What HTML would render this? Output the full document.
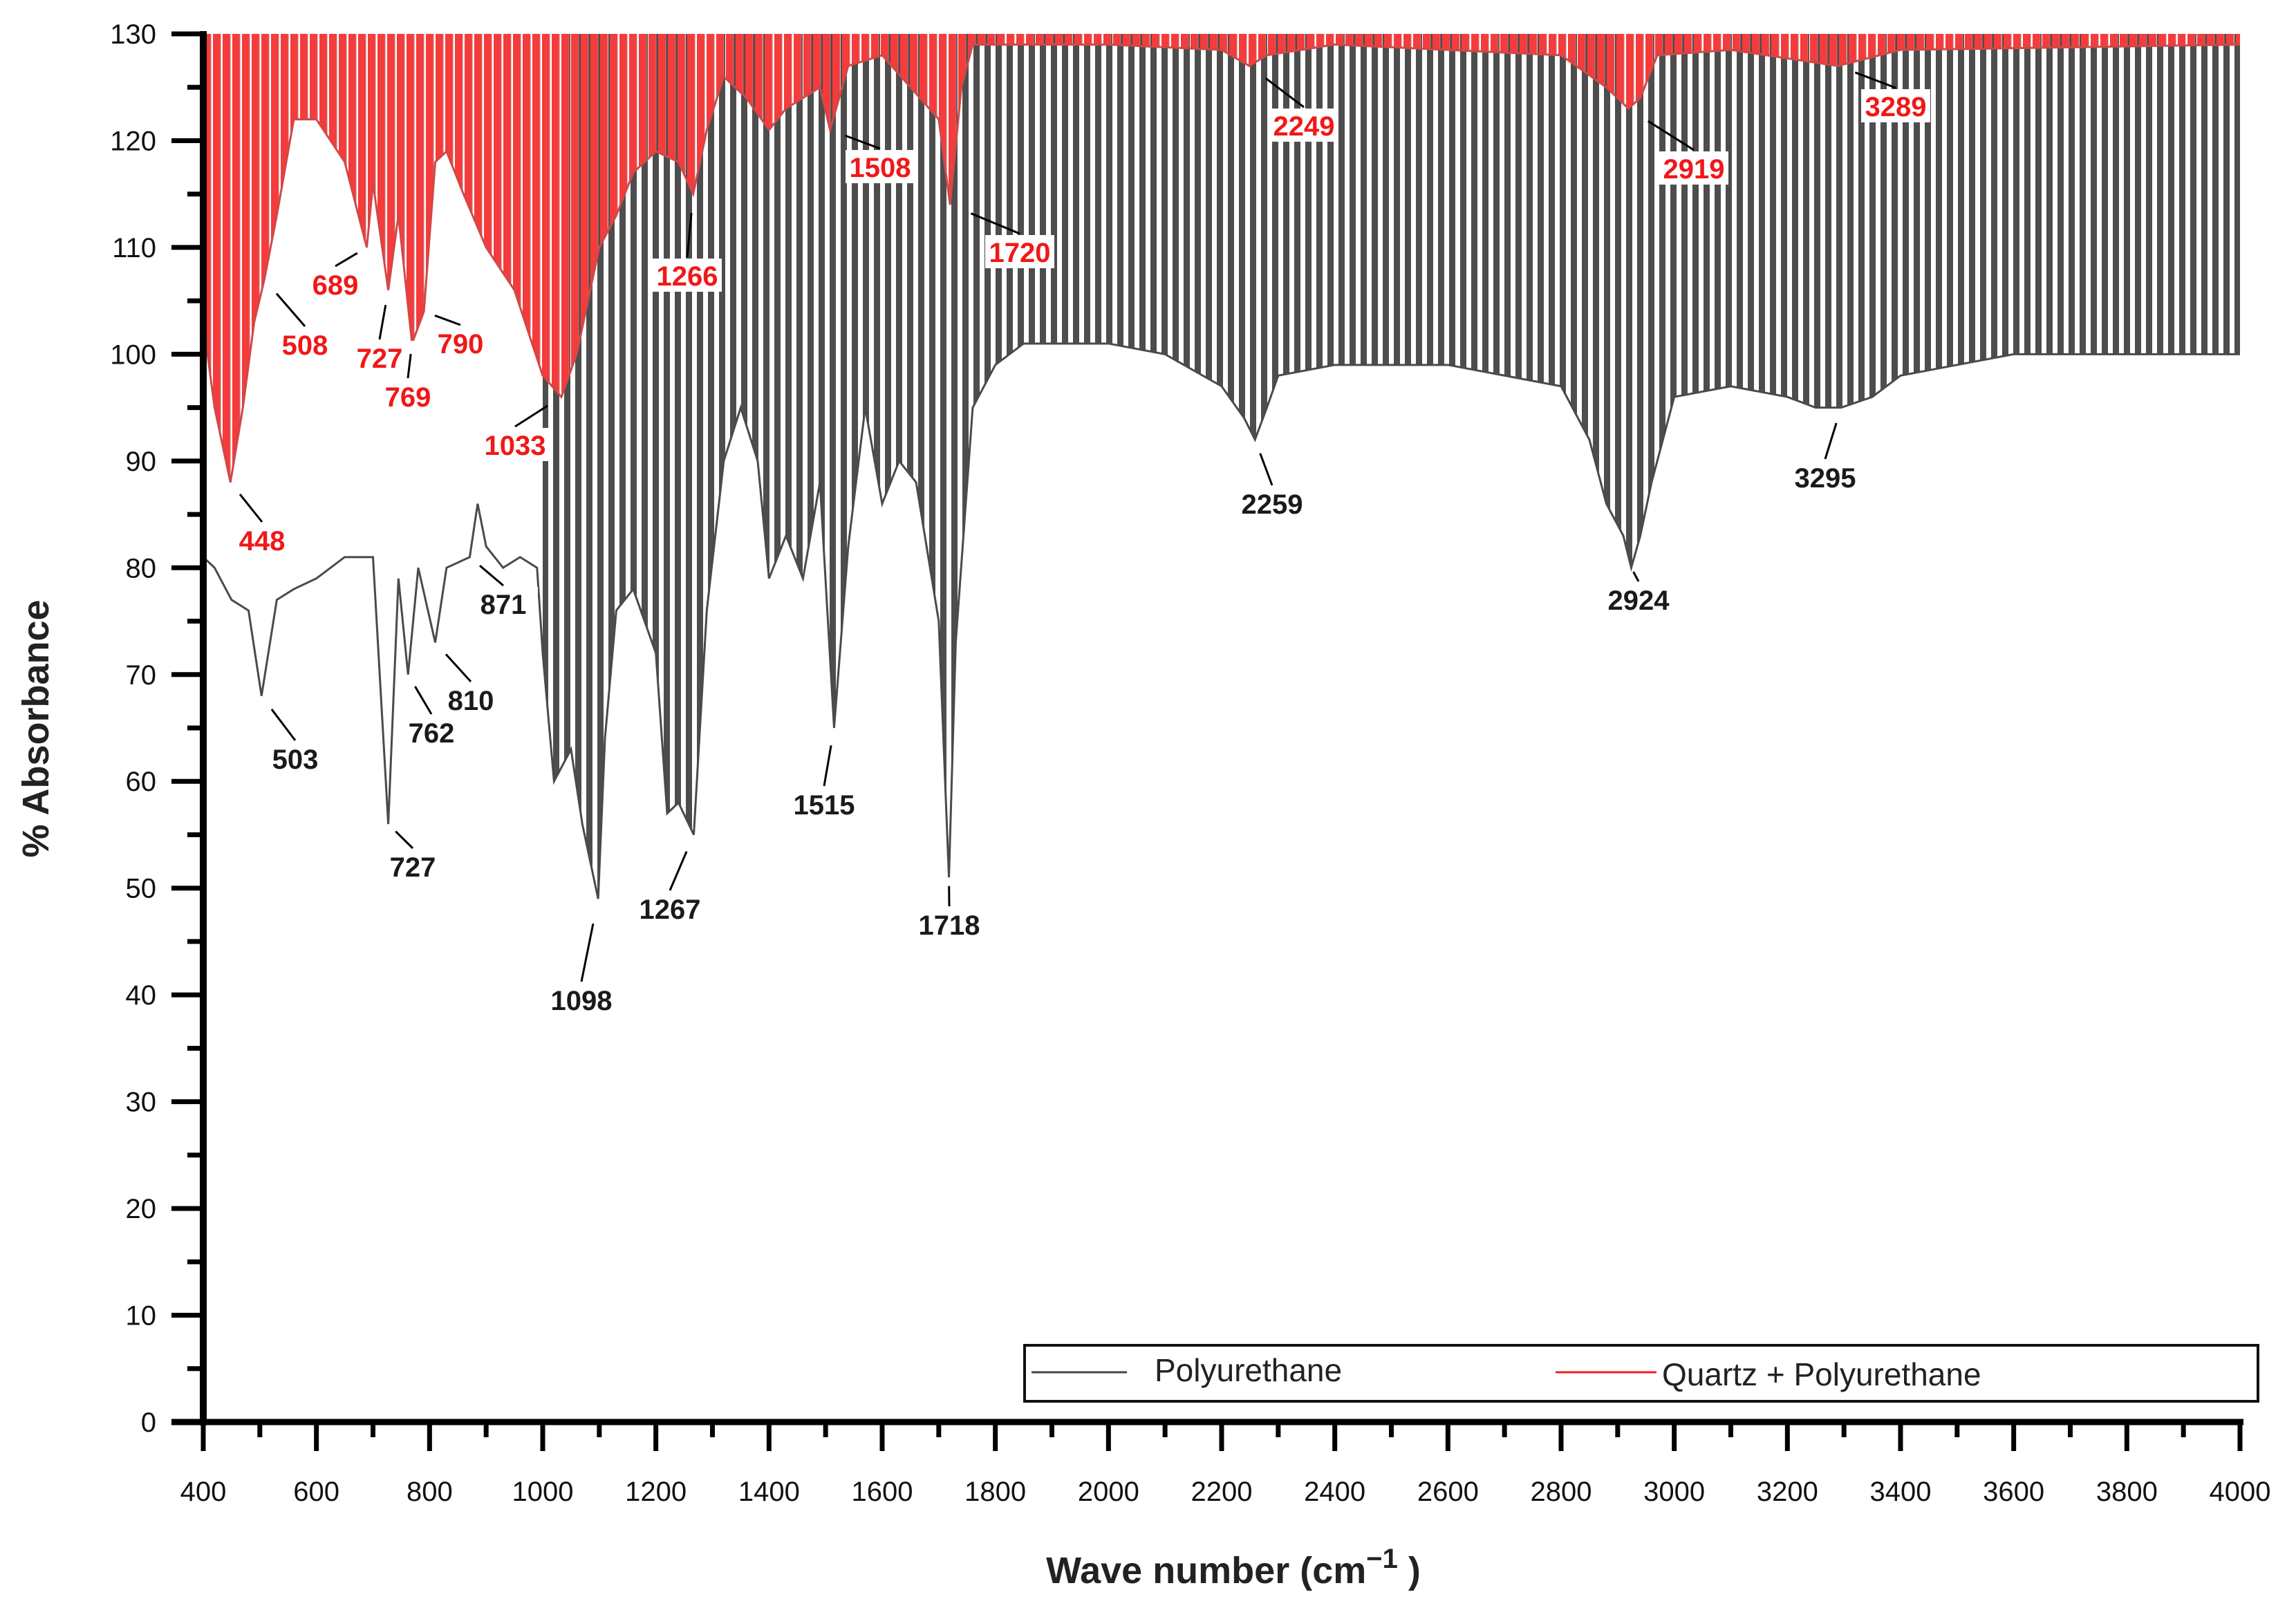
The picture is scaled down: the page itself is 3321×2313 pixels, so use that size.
<!DOCTYPE html>
<html><head><meta charset="utf-8"><style>
html,body{margin:0;padding:0;background:#fff;}
svg{display:block;font-family:"Liberation Sans",Arial,sans-serif;}
</style></head><body>
<svg id="chart" width="3321" height="2313" viewBox="0 0 3321 2313" xmlns="http://www.w3.org/2000/svg">
<defs>
<pattern id="grayStripes" patternUnits="userSpaceOnUse" width="16" height="20"><rect x="0" y="0" width="9" height="20" fill="#4d4d4d"/></pattern>
<pattern id="redStripes" patternUnits="userSpaceOnUse" width="14" height="20"><rect x="0" y="0" width="10" height="20" fill="#f53b3b"/><rect x="10" y="0" width="1.5" height="20" fill="#d06060"/></pattern>
</defs>
<g id="plot"></g>
<g id="axes"></g>
<g id="labels"></g>
<text x="0" y="0" transform="translate(70,1054) rotate(-90)" text-anchor="middle" font-size="54" font-weight="bold" fill="#222">% Absorbance</text>
<text x="1784" y="2290" text-anchor="middle" font-size="54" font-weight="bold" fill="#222">Wave number (cm<tspan dy="-22" font-size="40">−1</tspan><tspan dy="22"> )</tspan></text>
<g>
<rect x="1482" y="1946" width="1784" height="81" fill="#fff" stroke="#111" stroke-width="4"/>
<line x1="1492" y1="1985" x2="1630" y2="1985" stroke="#444" stroke-width="3"/>
<text x="1670" y="1998" font-size="46" fill="#222">Polyurethane</text>
<line x1="2250" y1="1985" x2="2396" y2="1985" stroke="#f02020" stroke-width="3"/>
<text x="2404" y="2004" font-size="46" fill="#222">Quartz + Polyurethane</text>
</g>
</svg>
<script>
const puWave=[400,420,450,480,503,530,560,600,650,700,727,745,762,780,810,830,871,885,900,930,960,990,1000,1020,1050,1070,1098,1110,1130,1160,1200,1220,1240,1267,1290,1320,1350,1380,1400,1430,1460,1490,1515,1540,1570,1600,1630,1660,1700,1718,1730,1760,1800,1850,1900,2000,2100,2200,2240,2259,2280,2300,2400,2500,2600,2700,2800,2850,2880,2910,2924,2940,2960,3000,3100,3200,3250,3295,3350,3400,3500,3600,4000];
const puValue=[81,80,77,76,68,77,78,79,81,81,56,79,70,80,73,80,81,86,82,80,81,80,72,60,63,56,49,64,76,78,72,57,58,55,76,90,95,90,79,83,79,88,65,82,95,86,90,88,75,51,73,95,99,101,101,101,100,97,94,92,95,98,99,99,99,98,97,92,86,83,80,83,88,96,97,96,95,95,96,98,99,100,100];
const qpWave=[400,420,448,470,490,508,530,560,600,650,689,700,727,745,769,790,810,830,860,900,950,1000,1033,1060,1100,1130,1160,1200,1240,1266,1290,1320,1360,1400,1430,1460,1490,1508,1540,1600,1650,1700,1720,1740,1760,1800,2000,2200,2249,2280,2400,2800,2880,2919,2940,2970,3100,3289,3400,4000];
const qpValue=[103,95,88,95,103,107,113,122,122,118,110,116,106,113,101,104,118,119,115,110,106,98,96,100,110,113,117,119,118,115,121,126,124,121,123,124,125,121,127,128,125,122,114,125,129,129,129,128.5,127,128,129,128,125,123,124,128,128.5,127,128.5,129];
const yTicks=[0,10,20,30,40,50,60,70,80,90,100,110,120,130];
const xTicks=[400,600,800,1000,1200,1400,1600,1800,2000,2200,2400,2600,2800,3000,3200,3400,3600,3800,4000];
const puPeaks=[503,727,762,810,871,1098,1267,1515,1718,2259,2924,3295];
const puPeakLabelPos=[[427,1097],[597,1253],[624,1059],[681,1012],[728,873],[841,1446],[969,1314],[1192,1163],[1373,1337],[1840,728],[2370,867],[2640,690]];
const qpPeaks=[448,508,689,727,769,790,1033,1266,1508,1720,2249,2919,3289];
const qpPeakLabelPos=[[379,781],[441,498],[485,411],[549,517],[590,573],[666,496],[745,643],[994,398],[1273,241],[1475,364],[1886,181],[2450,243],[2742,153]];

const NS='http://www.w3.org/2000/svg';
const X0=294,X1=3240,Y0=2057,Y1=49;
const xs=w=>X0+(w-400)/(3600)*(X1-X0);
const ys=v=>Y0-v/130*(Y0-Y1);
function interp(W,V,w){for(let i=0;i<W.length-1;i++){if(w>=W[i]&&w<=W[i+1]){return V[i]+(V[i+1]-V[i])*(w-W[i])/(W[i+1]-W[i]);}}return V[V.length-1];}
function mk(tag,attrs,parent){const e=document.createElementNS(NS,tag);for(const k in attrs)e.setAttribute(k,attrs[k]);parent.appendChild(e);return e;}
const plot=document.getElementById('plot');
let d='M'+xs(1000)+','+ys(130);
puWave.forEach((w,i)=>{if(w>=1000)d+=' L'+xs(w)+','+ys(puValue[i]);});
d+=' L'+xs(4000)+','+ys(130)+' Z';
const ga=mk('path',{d:d,fill:'url(#grayStripes)'},plot);


let d2='M'+xs(400)+','+ys(130);
qpWave.forEach((w,i)=>{d2+=' L'+xs(w)+','+ys(qpValue[i]);});
d2+=' L'+xs(4000)+','+ys(130)+' Z';
const ra=mk('path',{d:d2,fill:'url(#redStripes)'},plot);


const pl=mk('polyline',{points:puWave.map((w,i)=>xs(w)+','+ys(puValue[i])).join(' '),fill:'none',stroke:'#4a4a4a','stroke-width':3},plot);


const ql=mk('polyline',{points:qpWave.map((w,i)=>xs(w)+','+ys(qpValue[i])).join(' '),fill:'none',stroke:'#d04848','stroke-width':3},plot);


const ax=document.getElementById('axes');
const yl=mk('line',{x1:X0,y1:Y1-4,x2:X0,y2:Y0+5,stroke:'#000','stroke-width':10},ax);


const xl=mk('line',{x1:X0-46,y1:Y0,x2:X1+5,y2:Y0,stroke:'#000','stroke-width':9},ax);


yTicks.forEach(t=>{
  mk('line',{x1:X0-46,y1:ys(t),x2:X0,y2:ys(t),stroke:'#000','stroke-width':7},ax);
  if(t<130)mk('line',{x1:X0-23,y1:ys(t+5),x2:X0,y2:ys(t+5),stroke:'#000','stroke-width':7},ax);
  const tx=mk('text',{x:X0-68,y:ys(t)+14,'text-anchor':'end','font-size':40,fill:'#111'},ax);
  tx.textContent=t;
  
  
});
xTicks.forEach(t=>{
  mk('line',{x1:xs(t),y1:Y0,x2:xs(t),y2:Y0+42,stroke:'#000','stroke-width':7},ax);
  if(t<4000)mk('line',{x1:xs(t+100),y1:Y0,x2:xs(t+100),y2:Y0+22,stroke:'#000','stroke-width':7},ax);
  const tx=mk('text',{x:xs(t),y:Y0+114,'text-anchor':'middle','font-size':40,fill:'#111'},ax);
  tx.textContent=t;
  
  
});
const lb=document.getElementById('labels');
function addLabel(w,val,pos,color,name){
  const px=xs(w),py=ys(val);
  const lx=pos[0],ly=pos[1];
  const dirY=py<ly?-1:1;
  const sx=lx, sy=ly+dirY*26;
  const ex=sx+(px-sx)*0.7, ey=sy+(py-sy)*0.7;
  mk('line',{x1:sx,y1:sy,x2:ex,y2:ey,stroke:'#000','stroke-width':3},lb);
  const bg=mk('rect',{x:lx-50,y:ly-24,width:100,height:48,fill:'#fff'},lb);
  
  
  const t=mk('text',{x:lx,y:ly+15,'text-anchor':'middle','font-size':40,'font-weight':'bold',fill:color},lb);
  t.textContent=w;
  
  
}
puPeaks.forEach((w,i)=>addLabel(w,interp(puWave,puValue,w),puPeakLabelPos[i],'#1a1a1a','polyurethane'));
qpPeaks.forEach((w,i)=>addLabel(w,interp(qpWave,qpValue,w),qpPeakLabelPos[i],'#f01818','quartz-polyurethane'));
</script>
</body></html>
